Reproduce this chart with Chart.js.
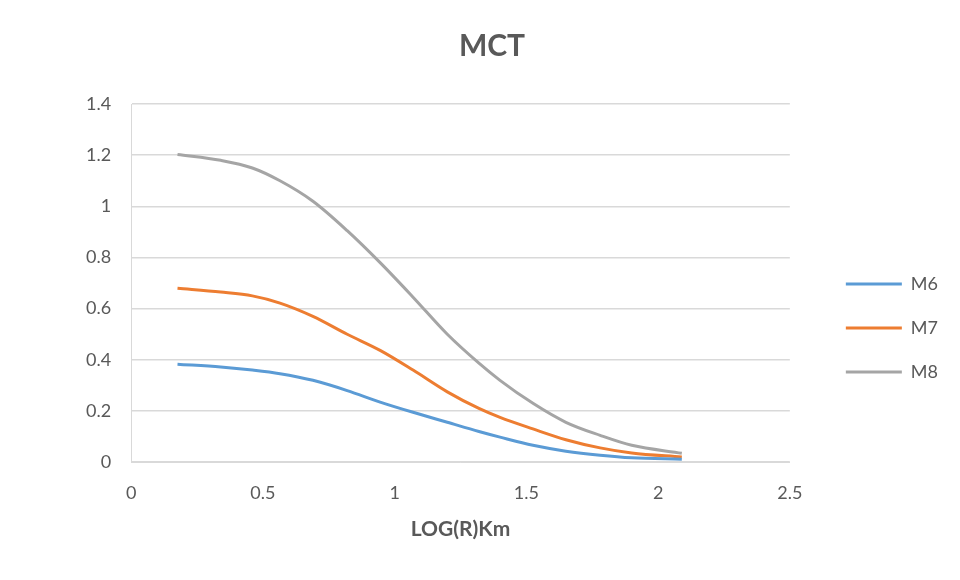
<!DOCTYPE html>
<html>
<head>
<meta charset="utf-8">
<script src="https://cdn.jsdelivr.net/npm/chart.js@4"></script>
<style>
	html, body { margin: 0; padding: 0; background: #fff; }
	#wrap { width: 960px; height: 580px; }
</style>
</head>
<body>
<div id="wrap"><canvas id="mct" width="960" height="580"></canvas></div>
<script>
// LOG(R) values along the x axis
const logR = [0.176, 0.34, 0.46, 0.565, 0.69, 0.82, 0.945, 1.07, 1.2, 1.32, 1.4, 1.525, 1.65, 1.78, 1.9, 2.09];

const m6 = [0.383, 0.372, 0.36, 0.346, 0.32, 0.28, 0.235, 0.195, 0.156, 0.12, 0.098, 0.066, 0.043, 0.027, 0.017, 0.012];
const m7 = [0.68, 0.665, 0.65, 0.622, 0.57, 0.50, 0.437, 0.36, 0.275, 0.21, 0.175, 0.13, 0.088, 0.056, 0.036, 0.02];
const m8 = [1.203, 1.18, 1.15, 1.1, 1.02, 0.905, 0.78, 0.645, 0.50, 0.387, 0.32, 0.23, 0.156, 0.105, 0.066, 0.035];

const seriesNames = ['M6', 'M7', 'M8'];
const seriesColors = ['#5B9BD5', '#ED7D31', '#A5A5A5'];

const xTicks = [0, 0.5, 1, 1.5, 2, 2.5];
const yTicks = [0, 0.2, 0.4, 0.6, 0.8, 1, 1.2, 1.4];

const toPoints = ys => ys.map((y, i) => ({ x: logR[i], y: y }));

const data_mct = {
	datasets: [m6, m7, m8].map((ys, i) => ({
		label: seriesNames[i],
		data: toPoints(ys),
		showLine: true,
		borderColor: seriesColors[i],
		backgroundColor: seriesColors[i],
		borderWidth: 3,
		pointRadius: 0,
		cubicInterpolationMode: 'monotone',
	}))
};

// nudge the legend to where Excel puts it (right of the plot, a bit low)
const legendNudge = {
	id: 'legendNudge',
	afterLayout(chart) {
		const lg = chart.legend;
		lg.left += 30;
		lg.right += 30;
		lg.top += 50;
		lg.bottom += 50;
	}
};

const config_mct = {
	type: 'scatter',
	data: data_mct,
	plugins: [legendNudge],
	options: {
		responsive: false,
		animation: false,
		layout: {
			padding: { left: 66, right: 42, top: 10, bottom: 34 }
		},
		plugins: {
			title: {
				display: true,
				text: 'MCT',
				color: '#595959',
				font: { family: 'Lato', size: 30, weight: 'bold' },
				padding: { top: 18, bottom: 40 }
			},
			legend: {
				position: 'right',
				labels: {
					usePointStyle: true,
					pointStyle: 'line',
					pointStyleWidth: 56,
					color: '#595959',
					font: { family: 'Lato', size: 18 },
					padding: 26,
					generateLabels: chart => chart.data.datasets.map((ds, i) => ({
						text: ds.label,
						strokeStyle: ds.borderColor,
						fillStyle: ds.borderColor,
						lineWidth: 3,
						pointStyle: 'line',
						datasetIndex: i,
						fontColor: '#595959'
					}))
				}
			},
			tooltip: { enabled: false }
		},
		scales: {
			x: {
				type: 'linear',
				min: 0,
				max: 2.5,
				afterBuildTicks: axis => { axis.ticks = xTicks.map(v => ({ value: v })); },
				grid: { display: false, drawTicks: false },
				border: { display: true, color: '#D9D9D9' },
				ticks: {
					color: '#595959',
					font: { family: 'Lato', size: 18 },
					padding: 20,
					callback: v => String(v)
				},
				title: {
					display: true,
					text: 'LOG(R)Km',
					color: '#595959',
					font: { family: 'Lato', size: 21, weight: 'bold' },
					padding: { top: -7 }
				}
			},
			y: {
				type: 'linear',
				min: 0,
				max: 1.4,
				afterBuildTicks: axis => { axis.ticks = yTicks.map(v => ({ value: v })); },
				grid: { color: '#D9D9D9', lineWidth: 1.5, drawTicks: false },
				border: { display: true, color: '#D9D9D9' },
				ticks: {
					color: '#595959',
					font: { family: 'Lato', size: 18 },
					padding: 20,
					callback: v => String(Math.round(v * 10) / 10)
				}
			}
		}
	}
};

const mct = new Chart(document.getElementById('mct'), config_mct);
</script>
</body>
</html>
